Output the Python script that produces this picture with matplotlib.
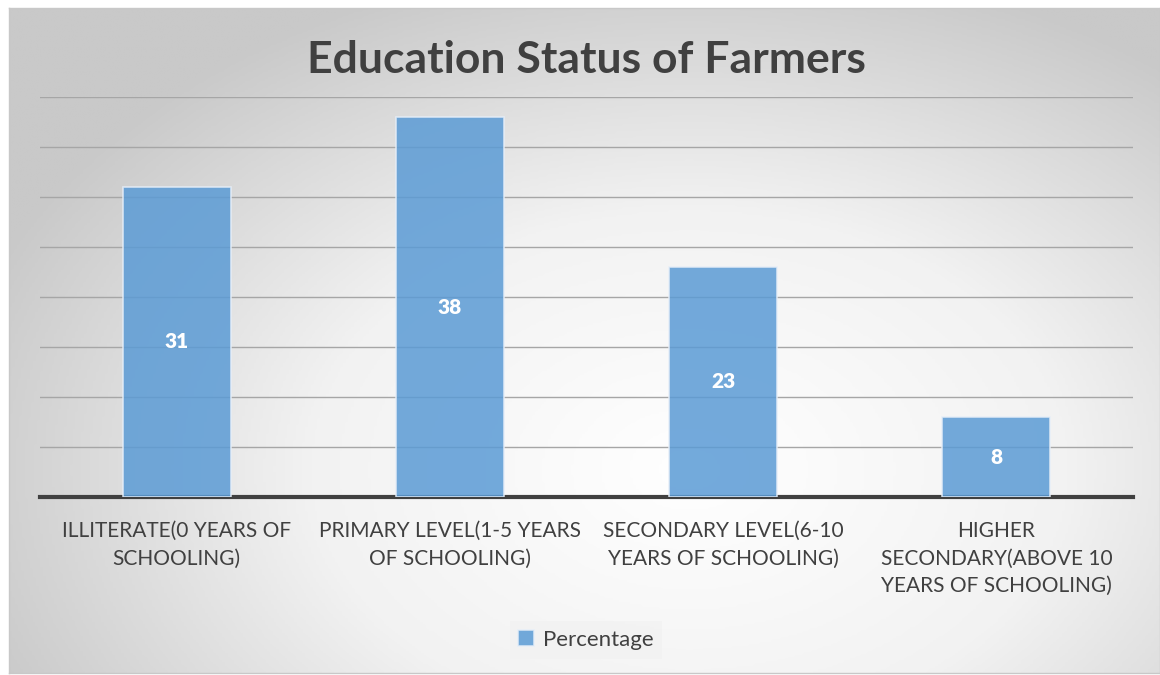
import numpy as np
import matplotlib.pyplot as plt
from matplotlib.colors import LinearSegmentedColormap

categories = [
    "ILLITERATE(0 YEARS OF\nSCHOOLING)",
    "PRIMARY LEVEL(1-5 YEARS\nOF SCHOOLING)",
    "SECONDARY LEVEL(6-10\nYEARS OF SCHOOLING)",
    "HIGHER\nSECONDARY(ABOVE 10\nYEARS OF SCHOOLING)",
]
percentage = [31, 38, 23, 8]
series_name = "Percentage"
title = "Education Status of Farmers"

plt.rcParams['font.family'] = ['Lato', 'DejaVu Sans']

W, H = 1160, 675
fig = plt.figure(figsize=(W / 100, H / 100), dpi=100)

# chart area with radial gradient background
x0, y0, x1, y1 = 9, 8, 1160, 673
bg = fig.add_axes([x0 / W, 1 - y1 / H, (x1 - x0) / W, (y1 - y0) / H], zorder=0)
gx, gy = np.meshgrid(np.linspace(x0, x1, 400), np.linspace(y0, y1, 300))
r = np.hypot((gx - 690) / 760, (gy - 470) / 520)
shade = np.clip(r, 0, 1)
cmap = LinearSegmentedColormap.from_list("bg", ["#ffffff", "#f2f2f2", "#c9c9c9"])
bg.imshow(shade, cmap=cmap, vmin=0, vmax=1, aspect='auto', extent=(0, 1, 0, 1))
bg.set_xticks([])
bg.set_yticks([])
for s in bg.spines.values():
    s.set_color('#c8c8c8')
    s.set_linewidth(1)

ax = fig.add_axes([40 / W, 1 - 497 / H, (1133 - 40) / W, 400 / H], zorder=1)
ax.patch.set_alpha(0)

xs = np.arange(len(categories))
bars = ax.bar(xs, percentage, width=0.395, color='#5b9bd5', alpha=0.85,
              edgecolor='#e6eef8', linewidth=1.2, zorder=3, label=series_name)
for rect, v in zip(bars, percentage):
    ax.text(rect.get_x() + rect.get_width() / 2, v / 2, str(v), ha='center', va='center',
            color='white', fontsize=15, fontweight='heavy', zorder=4)

ax.set_xlim(-0.5, len(categories) - 0.5)
ax.set_ylim(0, 40)
ax.set_yticks(np.arange(5, 45, 5))
ax.yaxis.grid(True, color='#a6a6a6', linewidth=1)
ax.set_axisbelow(True)
ax.tick_params(axis='y', left=False, labelleft=False)
ax.tick_params(axis='x', bottom=False, pad=14)
ax.set_xticks(xs)
ax.set_xticklabels(categories, fontsize=15, color='#404040', linespacing=1.45)
for side in ['top', 'right', 'left']:
    ax.spines[side].set_visible(False)
ax.spines['bottom'].set_color('#404040')
ax.spines['bottom'].set_linewidth(3)

fig.text(586 / W, 1 - 60 / H, title, ha='center', va='center', fontsize=32,
         fontweight='bold', color='#404040')

leg = fig.legend(handles=[bars], labels=[series_name], loc='center',
                 bbox_to_anchor=(586 / W, 1 - 640 / H), frameon=True, fontsize=16,
                 handlelength=0.7, handleheight=0.7, handletextpad=0.4,
                 borderpad=0.4, fancybox=False)
leg.get_frame().set_facecolor('#f2f2f2')
leg.get_frame().set_edgecolor('none')
for t in leg.get_texts():
    t.set_color('#404040')

fig.savefig('out.png', dpi=100)
